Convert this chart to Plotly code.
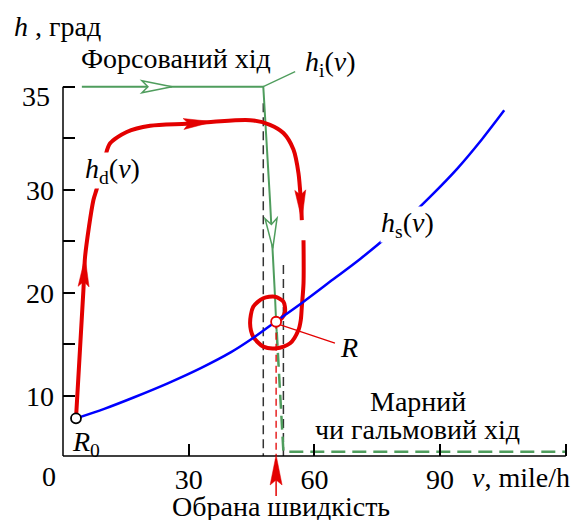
import plotly.graph_objects as go

# ---------------- data ----------------
x_ticks = [30, 60, 90, 120]
x_tick_labels = ["30", "60", "90", ""]
y_ticks = [10, 15, 20, 25, 30, 35, 40]
y_tick_labels = ["10", "", "20", "", "30", "", "35"]

# steady-state curve h_s(v)
hs_v = [3.1, 10, 17, 25, 33, 40, 45, 50.8, 57, 64.5, 71, 77.3, 82, 87.6, 94, 100, 105.3]
hs_h = [7.8, 8.75, 9.85, 11.2, 12.7, 14.2, 15.5, 17.2, 19.0, 21.3, 23.3, 25.4, 27.1, 29.3, 32.0, 34.9, 37.7]

# dynamic trajectory h_d(v)  (None = break in the drawn line)
hd_v = [3.1, 4.87, 5.27, 7.26, 8.07, 10.05, 11.24, 15.2, 20.8, 29.5, 35.9, 44.7, 49.4, 52.6, 55.0, 56.2,
        56.75, 57.0, None, 57.4, 57.4, 57.0, 56.75, 56.2, 54.2, 51.0, 47.8, 45.4, 44.65, 45.4, 47.8,
        50.6, 52.6, 53.0, 52.2, 50.86]
hd_h = [7.8, 20.25, 23.5, 29.0, 30.1, 33.2, 34.5, 35.6, 36.2, 36.4, 36.6, 36.75, 36.3, 35.5, 33.9, 31.6,
        29.0, 27.05, None, 25.1, 20.9, 18.64, 17.35, 16.38, 15.09, 14.6, 14.76, 15.73, 17.03, 18.64, 19.46,
        19.6, 19.13, 18.16, 17.5, 17.18]
hd_arrow_idx = [2, 10, 17]

# ideal control curve h_i(v)
hi_v = [4.5, 26.0, 47.8, 49.4, 50.07, 50.6, 50.86, 51.0]
hi_h = [40, 40, 40, 29.0, 24.3, 19.6, 17.18, 16.2]
hi_arrow_idx = [1, 4]
coast_v = [51.0, 52.6, 119.8]
coast_h = [16.2, 4.56, 4.56]

guide_v = [47.8, 52.6]
guide_top = [38.4, 22.7]

R0_v, R0_h = 3.1, 7.8
R_v, R_h = 50.86, 17.18

# ---------------- geometry / style ----------------
W, H = 573, 520
ML, MR, MT, MB = 63, 3, 60, 64
PW, PH = W - ML - MR, H - MT - MB
XR = [0, 121]
YR = [4.146, 42.59]

RED = "#e30000"
BLUE = "#0000ff"
GREEN = "#4f9d5d"
FONT = "Liberation Serif"
FS = 28


def px(v):
    return ML + (v - XR[0]) / (XR[1] - XR[0]) * PW


def py(h):
    return MT + (YR[1] - h) / (YR[1] - YR[0]) * PH


def paper(xp, yp):
    return (xp - ML) / PW, (H - MB - yp) / PH


def arrow_shape(tip, d, L, hw, notch, fill, line, lw):
    ux, uy = d
    n = (ux * ux + uy * uy) ** 0.5
    ux, uy = ux / n, uy / n
    nx, ny = -uy, ux
    bx, by = tip[0] - L * ux, tip[1] - L * uy
    pts = [tip,
           (bx + hw * nx, by + hw * ny),
           (bx + notch * ux, by + notch * uy),
           (bx - hw * nx, by - hw * ny)]
    pp = [paper(*p) for p in pts]
    path = "M " + " L ".join(f"{a:.5f},{b:.5f}" for a, b in pp) + " Z"
    return dict(type="path", xref="paper", yref="paper", path=path, layer="above",
                fillcolor=fill, line=dict(color=line, width=lw))


fig = go.Figure()

# guide dashed verticals
for gv, gt in zip(guide_v, guide_top):
    fig.add_trace(go.Scatter(x=[gv, gv], y=[gt, YR[0]], mode="lines",
                             line=dict(color="#333333", width=1.5, dash="9px,5px")))

# h_i(v)
fig.add_trace(go.Scatter(x=hi_v, y=hi_h, mode="lines", line=dict(color=GREEN, width=2)))
fig.add_trace(go.Scatter(x=coast_v, y=coast_h, mode="lines",
                         line=dict(color=GREEN, width=2.5, dash="14px,7px")))
# leader to h_i label
fig.add_trace(go.Scatter(x=[hi_v[2], 55.4], y=[hi_h[2], 41.46], mode="lines",
                         line=dict(color=GREEN, width=1.3)))

# h_d(v)
fig.add_trace(go.Scatter(x=hd_v, y=hd_h, mode="lines", connectgaps=False,
                         line=dict(color=RED, width=4, shape="spline", smoothing=0.8)))
# h_s(v)
fig.add_trace(go.Scatter(x=hs_v, y=hs_h, mode="lines",
                         line=dict(color=BLUE, width=2.5, shape="spline")))

# red dashed from R to axis
fig.add_trace(go.Scatter(x=[R_v, R_v], y=[R_h, YR[0]], mode="lines",
                         line=dict(color=RED, width=1.3, dash="7px,4px")))
# leader to R label
fig.add_trace(go.Scatter(x=[51.0, 64.9], y=[17.0, 15.1], mode="lines",
                         line=dict(color=RED, width=1.2)))

# points
fig.add_trace(go.Scatter(x=[R0_v], y=[R0_h], mode="markers",
                         marker=dict(size=10, color="white", line=dict(color="black", width=1.8))))
fig.add_trace(go.Scatter(x=[R_v], y=[R_h], mode="markers",
                         marker=dict(size=10, color="white", line=dict(color=RED, width=1.8))))

shapes = []
# axis lines
shapes.append(dict(type="line", xref="paper", yref="paper", x0=0, y0=0,
                   x1=paper(px(120), 0)[0], y1=0, line=dict(color="black", width=1.5), layer="above"))
shapes.append(dict(type="line", xref="paper", yref="paper", x0=0, y0=0,
                   x1=0, y1=paper(0, py(40))[1], line=dict(color="black", width=1.5), layer="above"))

# arrows on h_d
for i in hd_arrow_idx:
    tip = (px(hd_v[i]), py(hd_h[i]))
    prev = (px(hd_v[i - 1]), py(hd_h[i - 1]))
    shapes.append(arrow_shape(tip, (tip[0] - prev[0], tip[1] - prev[1]), 30, 5.5, 5, RED, RED, 0.5))
# arrows on h_i (open)
for i in hi_arrow_idx:
    tip = (px(hi_v[i]), py(hi_h[i]))
    prev = (px(hi_v[i - 1]), py(hi_h[i - 1]))
    shapes.append(arrow_shape(tip, (tip[0] - prev[0], tip[1] - prev[1]), 30, 6, 6, "white", GREEN, 1.5))

# chosen speed arrow under axis
tip = (px(R_v), py(YR[0]) - 1)
shapes.append(dict(type="line", xref="paper", yref="paper",
                   x0=paper(*tip)[0], y0=paper(*tip)[1] - 0.01,
                   x1=paper(*tip)[0], y1=paper(tip[0], tip[1] + 41)[1],
                   line=dict(color=RED, width=1.5), layer="above"))
shapes.append(arrow_shape(tip, (0, -1), 30, 6, 5, RED, RED, 0.5))


def ann(text, xp, yp, xanchor="center", yanchor="middle", size=FS, family=FONT, **kw):
    x, y = paper(xp, yp)
    return dict(text=text, x=x, y=y, xref="paper", yref="paper", showarrow=False,
                xanchor=xanchor, yanchor=yanchor,
                font=dict(family=family, size=size, color="black"), **kw)


annotations = [
    ann("<i>h</i> , град", 12, 26, xanchor="left"),
    ann("Форсований хід", 176, 59),
    ann("<i>h</i><sub>i</sub>(<i>v</i>)", 303, 64, xanchor="left"),
    ann("<i>h</i><sub>d</sub>(<i>v</i>)", 112, 170, bgcolor="white", borderpad=0),
    ann("<i>h</i><sub>s</sub>(<i>v</i>)", 407, 224, bgcolor="white", borderpad=0),
    ann("<i>R</i>", 349, 347),
    ann("<i>R</i><sub>0</sub>", 86, 443),
    ann("Марний", 418, 401),
    ann("чи гальмовий хід", 417, 429),
    ann("<i>v</i>, mile/h", 572, 477, xanchor="right"),
    ann("0", 49, 476),
    ann("Обрана швидкість", 281, 506),
    ann(y_tick_labels[-1], 52, 96, xanchor="right"),
]

fig.update_layout(
    width=W, height=H,
    margin=dict(l=ML, r=MR, t=MT, b=MB, pad=0, autoexpand=False),
    paper_bgcolor="white", plot_bgcolor="white",
    showlegend=False,
    shapes=shapes,
    annotations=annotations,
    font=dict(family=FONT, size=FS, color="black"),
    xaxis=dict(range=XR, showgrid=False, zeroline=False, showline=False, automargin=False,
               tickmode="array", tickvals=x_ticks, ticktext=x_tick_labels,
               ticks="inside", ticklen=12, tickwidth=1.5, tickcolor="black",
               ticklabelstandoff=4, tickfont=dict(family=FONT, size=FS)),
    yaxis=dict(range=YR, showgrid=False, zeroline=False, showline=False, automargin=False,
               tickmode="array", tickvals=y_ticks, ticktext=y_tick_labels[:-1] + [""],
               ticks="inside", ticklen=12, tickwidth=1.5, tickcolor="black",
               ticklabelstandoff=8, tickfont=dict(family=FONT, size=FS)),
)

fig.write_html("out.html", config={"displayModeBar": False},
               post_script="document.body.style.margin='0px';")
